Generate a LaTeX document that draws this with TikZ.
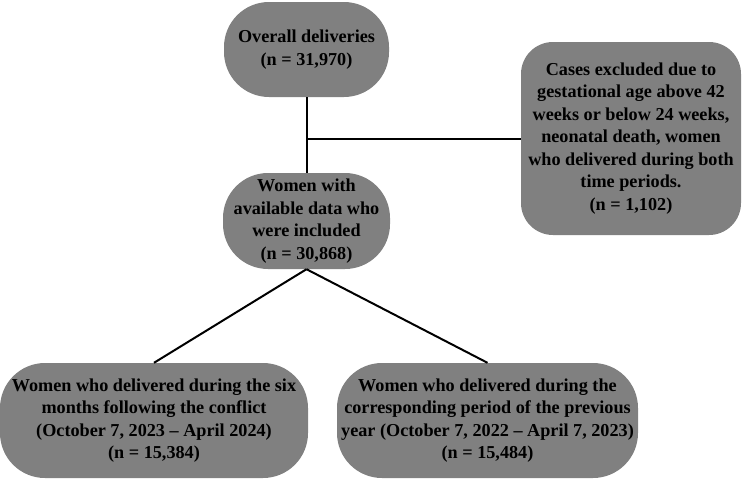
\documentclass[tikz,border=0pt]{standalone}
\usepackage{fontspec}
\setmainfont{Liberation Serif}
\usepackage{tikz}
\usetikzlibrary{positioning,calc}
\definecolor{boxgray}{HTML}{808080}
\tikzset{flowbox/.style={fill=boxgray,rounded corners=45pt,align=center,inner sep=2pt,font=\fontsize{18.2}{22.5}\selectfont\bfseries},link/.style={draw=black,line width=2pt}}

\begin{document}
\begin{tikzpicture}[x=1pt,y=-1pt]
\useasboundingbox (0,0) rectangle (744,482);
\node[flowbox,minimum width=165pt,minimum height=95pt] (overall) at (306.5,49.5) {Overall deliveries\\(n = 31,970)};
\node[flowbox,minimum width=167pt,minimum height=96pt] (incl) at (306.5,221) {Women with\\available data who\\were included\\(n = 30,868)};
\node[flowbox,rounded corners=32pt,minimum width=220pt,minimum height=193pt] (excl) at (631,138.5) {Cases excluded due to\\gestational age above 42\\weeks or below 24 weeks,\\neonatal death, women\\who delivered during both\\time periods.\\(n = 1,102)};
\node[flowbox,minimum width=308pt,minimum height=115pt] (post) at (154,420.5) {Women who delivered during the six\\months following the conflict\\(October 7, 2023 -- April 2024)\\(n = 15,384)};
\node[flowbox,minimum width=301pt,minimum height=115pt] (prior) at (487.5,420.5) {Women who delivered during the\\corresponding period of the previous\\year (October 7, 2022 -- April 7, 2023)\\(n = 15,484)};
\draw[link] (overall) -- (incl);
\draw[link] (excl.west) -- (excl.west -| overall.south);
\draw[link] (incl.south) -- (post.north);
\draw[link] (incl.south) -- (prior.north);
\end{tikzpicture}
\end{document}
